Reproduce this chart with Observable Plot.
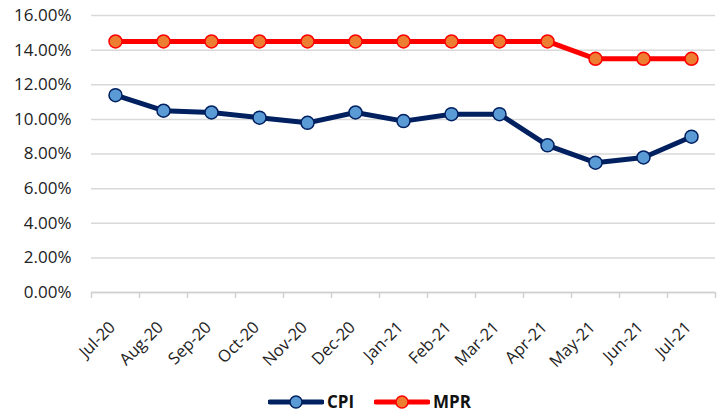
<!DOCTYPE html>
<html>
<head>
<meta charset="utf-8">
<script src="https://cdn.jsdelivr.net/npm/d3@7"></script>
<script src="https://cdn.jsdelivr.net/npm/@observablehq/plot@0.6"></script>
<style>
  html, body { margin: 0; padding: 0; background: #fff; }
  #chart svg { display: block; }
  #legend { display: flex; justify-content: center; align-items: center; gap: 20px; height: 31px; margin-left: 16px;
    font-family: "Open Sans", sans-serif; font-weight: bold; font-size: 17px; color: #111; }
  .item { display: flex; align-items: center; gap: 3px; }
</style>
</head>
<body>
<div id="chart"></div>
<div id="legend"></div>
<script>
const months = ["Jul-20","Aug-20","Sep-20","Oct-20","Nov-20","Dec-20","Jan-21","Feb-21","Mar-21","Apr-21","May-21","Jun-21","Jul-21"];
const cpi = [11.4, 10.5, 10.4, 10.1, 9.8, 10.4, 9.9, 10.3, 10.3, 8.5, 7.5, 7.8, 9.0];
const mpr = [14.5, 14.5, 14.5, 14.5, 14.5, 14.5, 14.5, 14.5, 14.5, 14.5, 13.5, 13.5, 13.5];
const yTicks = [0, 2, 4, 6, 8, 10, 12, 14, 16];

const seriesStyle = [
  {name: "CPI", values: cpi, line: "#002060", fill: "#5b9bd5"},
  {name: "MPR", values: mpr, line: "#ff0000", fill: "#ed7d31"}
];
const rows = seriesStyle.flatMap(s => months.map((m, i) => ({month: m, value: s.values[i], series: s.name})));

const W = 723, H = 386;
const step = (W - 91 - 8) / months.length;

const marks = [
  Plot.gridY(yTicks, {stroke: "#d9d9d9", strokeOpacity: 1, strokeWidth: 1.5}),
  Plot.ruleY([0], {stroke: "#d0d0d0", strokeWidth: 1.5}),
  Plot.axisY(yTicks, {tickSize: 0, tickPadding: 20, label: null, tickFormat: d => d.toFixed(2) + "%", fontSize: 17, fill: "#222"}),
  Plot.axisX({tickSize: 6, label: null, tickFormat: () => "", dx: -step / 2, stroke: "#d0d0d0", strokeWidth: 1.5}),
  Plot.axisX([months[months.length - 1]], {tickSize: 6, label: null, tickFormat: () => "", dx: step / 2, stroke: "#d0d0d0", strokeWidth: 1.5}),
  Plot.axisX({tickSize: 0, tickPadding: 32, label: null, tickRotate: -45, fontSize: 16.5, fill: "#222", dx: -3})
];
for (const s of seriesStyle) {
  const data = rows.filter(r => r.series === s.name);
  marks.push(Plot.line(data, {x: "month", y: "value", stroke: s.line, strokeWidth: 5, strokeLinejoin: "round"}));
  marks.push(Plot.dot(data, {x: "month", y: "value", r: 6.5, fill: s.fill, stroke: s.line, strokeWidth: 1.5}));
}

const chart = Plot.plot({
  width: W,
  height: H,
  marginLeft: 91,
  marginRight: 8,
  marginTop: 15,
  marginBottom: 94,
  style: {fontFamily: "'Open Sans', sans-serif", background: "#fff"},
  x: {type: "point", domain: months, padding: 0.5, axis: null, label: null},
  y: {domain: [0, 16], axis: null, label: null},
  marks
});
document.getElementById("chart").appendChild(chart);

const legend = document.getElementById("legend");
for (const s of seriesStyle) {
  const item = document.createElement("div");
  item.className = "item";
  item.innerHTML = `<svg width="56" height="16"><line x1="2" y1="8" x2="54" y2="8" stroke="${s.line}" stroke-width="5" stroke-linecap="round"/><circle cx="28" cy="8" r="6" fill="${s.fill}" stroke="${s.line}" stroke-width="1.5"/></svg><span>${s.name}</span>`;
  legend.appendChild(item);
}
</script>
</body>
</html>
